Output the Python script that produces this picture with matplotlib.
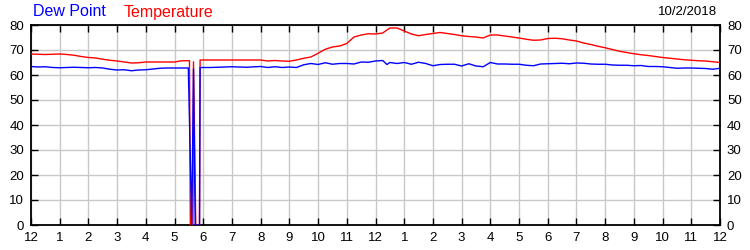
import matplotlib
matplotlib.use("Agg")
import matplotlib.pyplot as plt

plt.rcParams['font.family'] = ['Liberation Sans', 'DejaVu Sans']

# Temperature (red) - hours since midnight, degrees F
temp_hours = [0.0, 0.25, 0.5, 0.75, 1.0, 1.25, 1.5, 1.75, 2.0, 2.25, 2.5, 2.75, 3.0, 3.25, 3.5, 3.75,
              4.0, 4.25, 4.5, 4.75, 5.0, 5.25, 5.52, 5.55, 5.64, 5.66, 5.74, 5.87, 5.89,
              6.25, 6.5, 7.0, 7.5, 8.0, 8.25, 8.5, 8.75, 9.0, 9.25, 9.5, 9.75,
              10.0, 10.25, 10.5, 10.75, 11.0, 11.25, 11.5, 11.75, 12.0, 12.25, 12.5, 12.75,
              13.0, 13.25, 13.5, 13.75, 14.0, 14.25, 14.5, 14.75, 15.0, 15.25, 15.5, 15.75,
              16.0, 16.25, 16.5, 16.75, 17.0, 17.25, 17.5, 17.75, 18.0, 18.25, 18.5, 18.75,
              19.0, 19.25, 19.5, 19.75, 20.0, 20.25, 20.5, 20.75, 21.0, 21.25, 21.5, 21.75,
              22.0, 22.25, 22.5, 22.75, 23.0, 23.25, 23.5, 23.75, 24.0]
temp_values = [68.4, 68.3, 68.2, 68.3, 68.4, 68.2, 67.9, 67.4, 67.0, 66.8, 66.3, 65.9, 65.6, 65.2, 64.8, 64.9,
               65.2, 65.2, 65.2, 65.2, 65.2, 65.7, 65.7, 0.0, 0.0, 65.3, 0.0, 0.0, 66.0,
               66.0, 66.0, 66.0, 66.0, 66.0, 65.6, 65.8, 65.6, 65.5, 66.0, 66.7, 67.2,
               68.7, 70.3, 71.2, 71.6, 72.6, 75.2, 76.0, 76.5, 76.4, 76.8, 78.8, 78.8,
               77.6, 76.4, 75.7, 76.2, 76.6, 77.0, 76.6, 76.2, 75.7, 75.4, 75.2, 74.8,
               76.0, 76.0, 75.6, 75.2, 74.8, 74.3, 73.9, 74.0, 74.6, 74.7, 74.5, 74.0,
               73.6, 72.8, 72.2, 71.5, 70.9, 70.2, 69.5, 69.0, 68.5, 68.1, 67.8, 67.4,
               67.0, 66.7, 66.4, 66.1, 65.9, 65.7, 65.6, 65.3, 65.0]

# Dew point (blue)
dew_hours = [0.0, 0.25, 0.5, 0.75, 1.0, 1.25, 1.5, 1.75, 2.0, 2.25, 2.5, 2.75, 3.0, 3.25, 3.5, 3.75,
             4.0, 4.25, 4.5, 4.75, 5.0, 5.25, 5.48, 5.60, 5.66, 5.72, 5.87, 5.89,
             6.25, 6.5, 7.0, 7.5, 8.0, 8.25, 8.5, 8.75, 9.0, 9.25, 9.5, 9.75,
             10.0, 10.25, 10.5, 10.75, 11.0, 11.25, 11.5, 11.75, 12.0, 12.25, 12.4, 12.5, 12.75,
             13.0, 13.25, 13.5, 13.75, 14.0, 14.25, 14.5, 14.75, 15.0, 15.25, 15.5, 15.75,
             16.0, 16.25, 16.5, 16.75, 17.0, 17.25, 17.5, 17.75, 18.0, 18.25, 18.5, 18.75,
             19.0, 19.25, 19.5, 19.75, 20.0, 20.25, 20.5, 20.75, 21.0, 21.25, 21.5, 21.75,
             22.0, 22.25, 22.5, 22.75, 23.0, 23.25, 23.5, 23.75, 24.0]
dew_values = [63.4, 63.2, 63.3, 63.0, 62.9, 63.0, 63.1, 63.0, 62.9, 63.0, 62.8, 62.3, 62.0, 62.1, 61.7, 62.0,
              62.1, 62.4, 62.7, 62.8, 62.8, 62.8, 62.8, 0.0, 62.5, 0.0, 0.0, 63.0,
              63.0, 63.1, 63.3, 63.1, 63.4, 63.0, 63.3, 63.0, 63.2, 63.0, 64.1, 64.6,
              64.2, 64.9, 64.3, 64.6, 64.6, 64.4, 65.2, 65.1, 65.6, 65.8, 64.2, 65.0, 64.6,
              65.0, 64.3, 65.1, 64.6, 63.7, 64.2, 64.3, 64.3, 63.6, 64.5, 63.6, 63.3,
              65.0, 64.4, 64.4, 64.3, 64.3, 63.9, 63.7, 64.4, 64.5, 64.6, 64.7, 64.5,
              64.8, 64.7, 64.4, 64.3, 64.3, 64.0, 63.9, 63.9, 63.7, 63.8, 63.4, 63.4,
              63.3, 63.0, 62.7, 62.8, 62.8, 62.7, 62.6, 62.3, 62.7]

x_tick_labels = ['12', '1', '2', '3', '4', '5', '6', '7', '8', '9', '10', '11',
                 '12', '1', '2', '3', '4', '5', '6', '7', '8', '9', '10', '11', '12']
y_ticks = [0, 10, 20, 30, 40, 50, 60, 70, 80]
date_label = '10/2/2018'

fig = plt.figure(figsize=(7.5, 2.5), dpi=100)
ax = fig.add_axes([31/750, 25/250, 689/750, 200/250])

ax.plot(temp_hours, temp_values, color='#ff0000', lw=1.0, zorder=3)
ax.plot(dew_hours, dew_values, color='#0000ff', lw=1.0, zorder=4)

ax.set_xlim(0, 24)
ax.set_ylim(0, 80)
ax.set_xticks(range(25))
ax.set_xticklabels(x_tick_labels)
ax.set_yticks(y_ticks)
ax.grid(True, color='#c8c8c8', lw=1.0, zorder=0)
ax.set_axisbelow(True)

for s in ax.spines.values():
    s.set_color('black')
    s.set_linewidth(1.3)

ax.tick_params(axis='x', direction='in', length=5, width=1, top=True, bottom=True,
               labelsize=9.5, pad=5, colors='black')
ax.tick_params(axis='y', direction='in', length=5, width=1, left=True, right=True,
               labelleft=True, labelright=True, labelsize=9.5, pad=5, colors='black')

fig.text(33/750, 1 - 12/250, 'Dew Point', color='#0000ff', fontsize=11.5, ha='left', va='center')
fig.text(124/750, 1 - 12/250, 'Temperature', color='#ff0000', fontsize=11.5, ha='left', va='center')
fig.text(717/750, 1 - 12/250, date_label, color='black', fontsize=9.5, ha='right', va='center')

fig.savefig('out.png', dpi=100)
